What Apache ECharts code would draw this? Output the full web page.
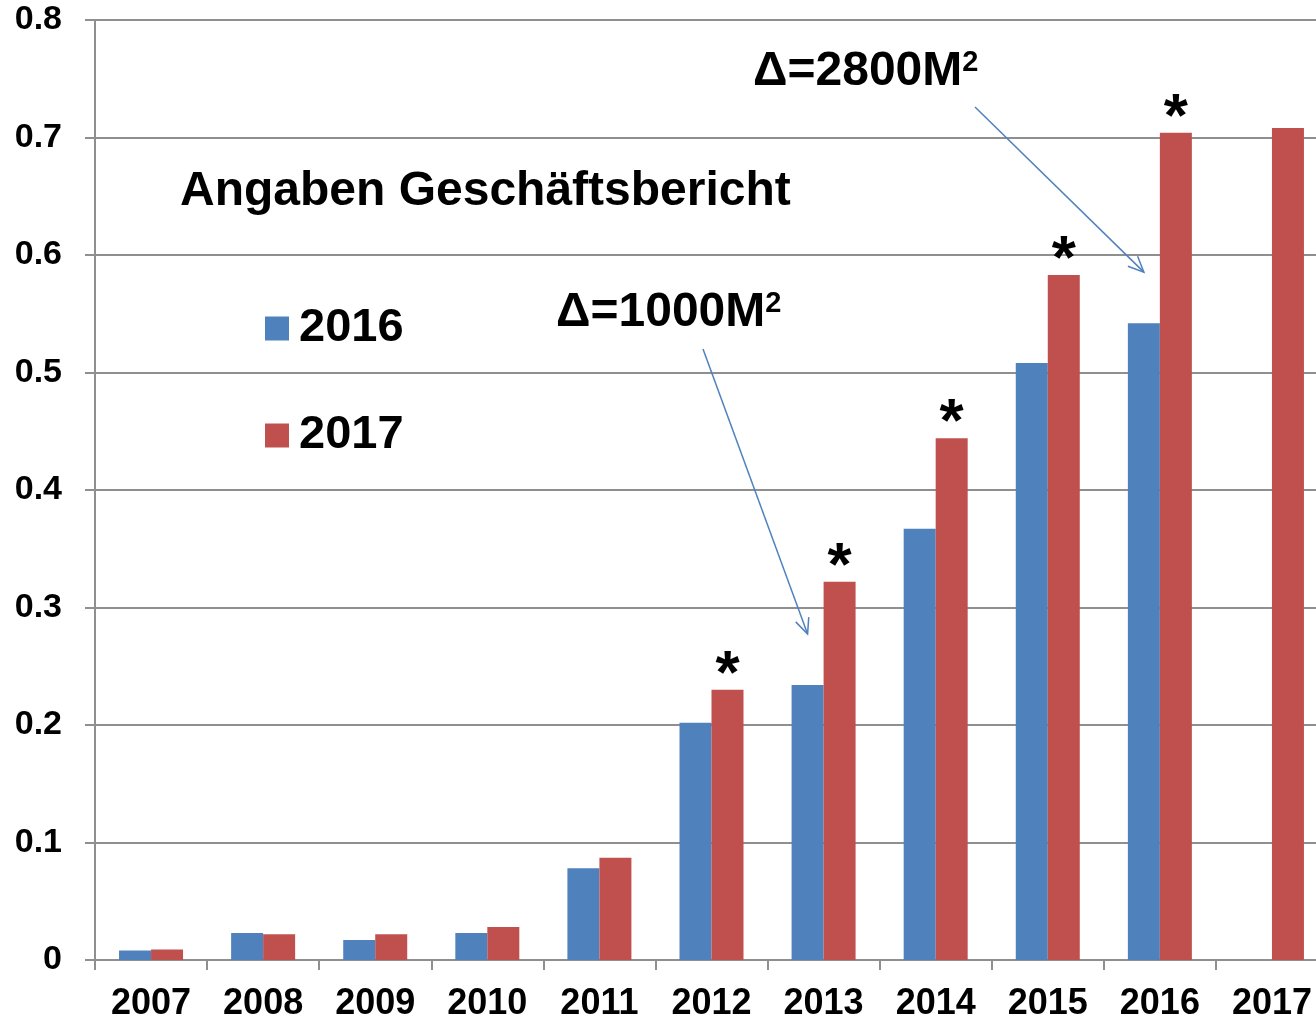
<!DOCTYPE html>
<html>
<head>
<meta charset="utf-8">
<script src="https://cdn.jsdelivr.net/npm/echarts@6/dist/echarts.min.js"></script>
<style>
  html, body { margin: 0; padding: 0; background: #fff; overflow: hidden; }
  /* the plot continues a little past the right edge of the window */
  #chart { width: 1340px; height: 1022px; }
</style>
</head>
<body>
<div id="chart"></div>
<script>
// Years on the category axis
const categories = ['2007', '2008', '2009', '2010', '2011', '2012', '2013', '2014', '2015', '2016', '2017'];
// Values as reported in the 2016 and 2017 annual reports
const values2016 = [0.008, 0.023, 0.017, 0.023, 0.078, 0.202, 0.234, 0.367, 0.508, 0.542, null];
const values2017 = [0.009, 0.022, 0.022, 0.028, 0.087, 0.230, 0.322, 0.444, 0.583, 0.704, 0.708];
// Years whose 2017 figure is flagged with an asterisk
const starredYears = ['2012', '2013', '2014', '2015', '2016'];
// Annotations pointing at revised years
const deltaNotes = [
  { main: 'Δ=1000M', sup: '2', year: '2013' },
  { main: 'Δ=2800M', sup: '2', year: '2016' }
];
const seriesNames = ['2016', '2017'];

const FONT = '"Liberation Sans", Arial, sans-serif';
const BLUE = '#4F81BD';
const RED = '#C0504D';
const AXIS_GRAY = '#8f8f8f';
const BAR_W = 32;

const chart = echarts.init(document.getElementById('chart'), null, { renderer: 'canvas' });

const redData = values2017.map((v, i) => {
  if (starredYears.includes(categories[i])) {
    return {
      value: v,
      label: {
        show: true, position: 'top', formatter: '*', distance: -17,
        fontFamily: FONT, fontWeight: 'bold', fontSize: 62, color: '#000'
      }
    };
  }
  return v;
});

const option = {
  animation: false,
  backgroundColor: '#fff',
  grid: { left: 95, top: 20, width: 1233, height: 941 },
  legend: {
    data: seriesNames,
    orient: 'vertical',
    left: 260,
    top: 300,
    icon: 'rect',
    itemWidth: 24,
    itemHeight: 24,
    itemGap: 60,
    textStyle: { fontFamily: FONT, fontWeight: 'bold', fontSize: 47, color: '#000', padding: [0, 0, 0, 5], lineHeight: 46 }
  },
  xAxis: {
    type: 'category',
    data: categories,
    axisLine: { lineStyle: { color: AXIS_GRAY, width: 2 } },
    axisTick: { show: true, length: 10, lineStyle: { color: AXIS_GRAY, width: 2 } },
    axisLabel: { fontFamily: FONT, fontWeight: 'bold', fontSize: 36, color: '#000', margin: 26, interval: 0 }
  },
  yAxis: {
    type: 'value',
    min: 0,
    max: 0.8,
    interval: 0.1,
    axisLine: { show: true, lineStyle: { color: AXIS_GRAY, width: 2 } },
    axisTick: { show: true, length: 10, lineStyle: { color: AXIS_GRAY, width: 2 } },
    splitLine: { lineStyle: { color: AXIS_GRAY, width: 2 } },
    axisLabel: { fontFamily: FONT, fontWeight: 'bold', fontSize: 34, color: '#000', margin: 33 }
  },
  series: [
    {
      name: seriesNames[0], type: 'bar', data: values2016,
      barWidth: BAR_W, barGap: '0%', itemStyle: { color: BLUE }
    },
    {
      name: seriesNames[1], type: 'bar', data: redData,
      barWidth: BAR_W, barGap: '0%', itemStyle: { color: RED }
    }
  ]
};

chart.setOption(option);

// Headline text and the Δ annotations with their arrows
const noteBoxes = [
  { left: 556, mid: 313, start: [703, 349] },
  { left: 753, mid: 72, start: [975, 107] }
];

const graphics = [
  { type: 'text', x: 180, y: 192, style: { text: 'Angaben Geschäftsbericht', font: 'bold 48px ' + FONT, fill: '#000', textVerticalAlign: 'middle' } }
];

deltaNotes.forEach((note, k) => {
  const box = noteBoxes[k];
  graphics.push({
    type: 'text', x: box.left, y: box.mid,
    style: {
      text: '{m|' + note.main + '}{s|' + note.sup + '}',
      textVerticalAlign: 'middle',
      rich: {
        m: { fontFamily: FONT, fontWeight: 'bold', fontSize: 48, fill: '#000', lineHeight: 48 },
        s: { fontFamily: FONT, fontWeight: 'bold', fontSize: 29, fill: '#000', lineHeight: 29, verticalAlign: 'top' }
      }
    }
  });
  const idx = categories.indexOf(note.year);
  const p = chart.convertToPixel({ gridIndex: 0 }, [note.year, values2016[idx]]);
  const end = [p[0] - BAR_W / 2, p[1] - 51];
  const s = box.start;
  const ang = Math.atan2(end[1] - s[1], end[0] - s[0]);
  const hl = 17, spread = 0.42;
  const h1 = [end[0] - hl * Math.cos(ang - spread), end[1] - hl * Math.sin(ang - spread)];
  const h2 = [end[0] - hl * Math.cos(ang + spread), end[1] - hl * Math.sin(ang + spread)];
  const ls = { stroke: BLUE, lineWidth: 1.5, fill: null };
  graphics.push({ type: 'line', shape: { x1: s[0], y1: s[1], x2: end[0], y2: end[1] }, style: ls });
  graphics.push({ type: 'polyline', shape: { points: [h1, end, h2] }, style: ls });
});

chart.setOption({ graphic: graphics });
</script>
</body>
</html>
